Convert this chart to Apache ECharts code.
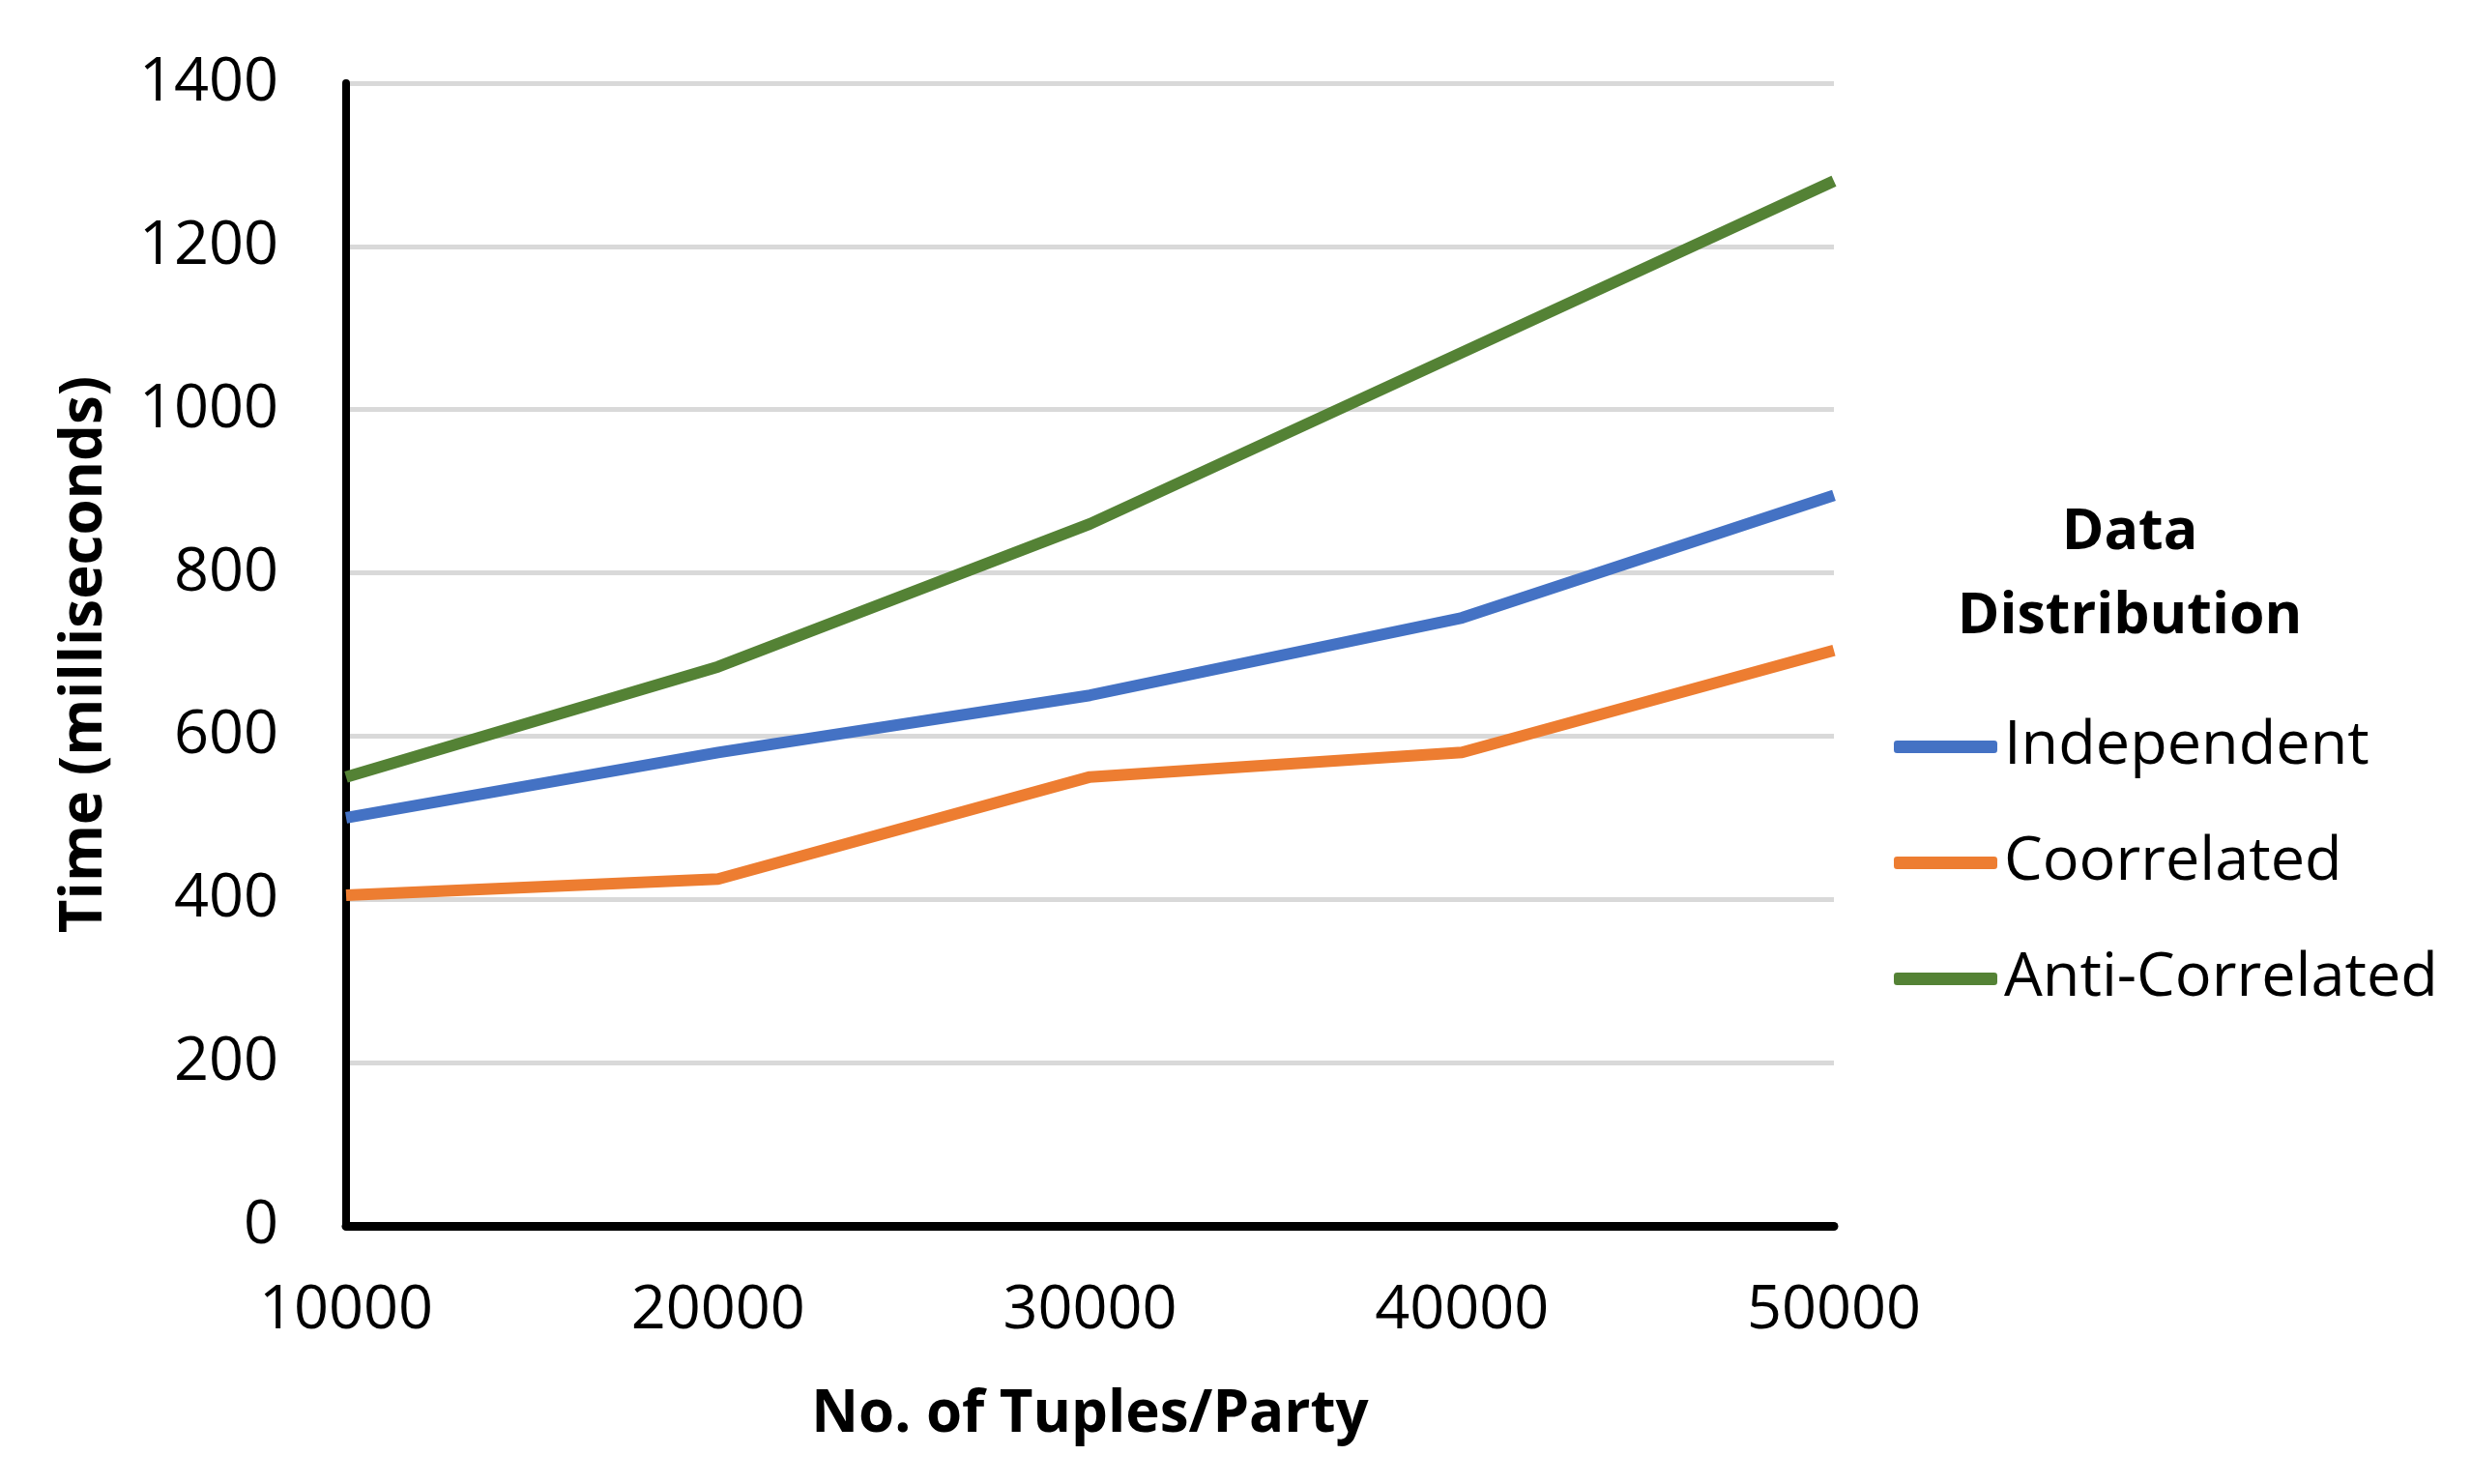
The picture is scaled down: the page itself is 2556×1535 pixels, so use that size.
<!DOCTYPE html>
<html>
<head>
<meta charset="utf-8">
<script src="https://cdn.jsdelivr.net/npm/echarts@6/dist/echarts.min.js"></script>
<style>
html,body{margin:0;padding:0;background:#fff;}
#chart{width:2556px;height:1535px;}
</style>
</head>
<body>
<div id="chart"></div>
<script>
const tuples = [10000, 20000, 30000, 40000, 50000];
const independent = [500, 580, 650, 745, 895];
const correlated = [405, 425, 550, 580, 705];
const antiCorrelated = [550, 685, 860, 1070, 1280];
const seriesNames = ['Independent', 'Coorrelated', 'Anti-Correlated'];
const seriesColors = ['#4472C4', '#ED7D31', '#548235'];
const yTitle = 'Time (milliseconds)';
const xTitle = 'No. of Tuples/Party';
const legendTitle = 'Data\nDistribution';

const pair = (xs, ys) => xs.map((x, i) => [x, ys[i]]);
const allValues = [independent, correlated, antiCorrelated];

const chart = echarts.init(document.getElementById('chart'));
chart.setOption({
  backgroundColor: '#ffffff',
  animation: false,
  title: {
    text: legendTitle,
    left: 2203,
    top: 508,
    textAlign: 'center',
    padding: 0,
    textStyle: {fontFamily: 'Open Sans', fontSize: 59, fontWeight: 'bold', color: '#000', lineHeight: 87}
  },
  legend: {
    orient: 'vertical',
    left: 1959,
    top: 741,
    padding: 0,
    itemWidth: 107,
    itemHeight: 13,
    itemGap: 57,
    icon: 'roundRect',
    textStyle: {fontFamily: 'Open Sans', fontSize: 63, color: '#000', lineHeight: 63, padding: [0, 0, 0, 2]},
    data: seriesNames.map((n, i) => ({name: n, itemStyle: {color: seriesColors[i]}}))
  },
  grid: {left: 358, right: 659, top: 86, bottom: 267, containLabel: false},
  xAxis: {
    type: 'value',
    min: 10000, max: 50000, interval: 10000,
    name: xTitle,
    nameLocation: 'middle',
    nameGap: 166,
    nameTextStyle: {fontFamily: 'Open Sans', fontSize: 60, fontWeight: 'bold', color: '#000'},
    axisLine: {show: true, lineStyle: {color: '#000', width: 9}},
    axisTick: {show: false},
    splitLine: {show: false},
    axisLabel: {fontFamily: 'Open Sans', fontSize: 63, color: '#000', margin: 57, showMinLabel: true, showMaxLabel: true,
      formatter: v => String(v)}
  },
  yAxis: {
    type: 'value',
    min: 0, max: 1400, interval: 200,
    name: yTitle,
    nameLocation: 'middle',
    nameGap: 240,
    nameRotate: 90,
    nameTextStyle: {fontFamily: 'Open Sans', fontSize: 60, fontWeight: 'bold', color: '#000'},
    axisLine: {show: true, lineStyle: {color: '#000', width: 8}},
    axisTick: {show: false},
    splitLine: {show: true, lineStyle: {color: '#d9d9d9', width: 5}},
    axisLabel: {fontFamily: 'Open Sans', fontSize: 63, color: '#000', margin: 70, formatter: v => String(v)}
  },
  series: seriesNames.map((n, i) => ({
    name: n,
    type: 'line',
    data: pair(tuples, allValues[i]),
    symbol: 'none',
    smooth: false,
    lineStyle: {color: seriesColors[i], width: 12},
    itemStyle: {color: seriesColors[i]}
  }))
});
</script>
</body>
</html>
